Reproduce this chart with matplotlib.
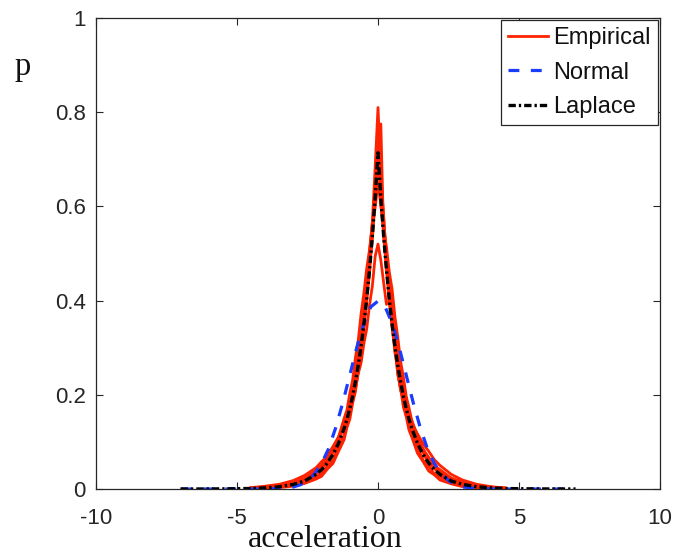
import numpy as np
import matplotlib
matplotlib.use("Agg")
import matplotlib.pyplot as plt

plt.rcParams['font.family'] = ['Liberation Sans', 'DejaVu Sans']

# grid used for the empirical curves and the Laplace fit
x_emp = [-4.5, -4, -3.5, -3, -2.6, -2.2, -2, -1.8, -1.6, -1.4, -1.2, -1.1, -1.0,
         -0.9, -0.8, -0.7, -0.6, -0.5, -0.4, -0.3, -0.2, -0.1, 0,
         0.1, 0.2, 0.3, 0.4, 0.5, 0.6, 0.7, 0.8, 0.9, 1.0, 1.1, 1.2, 1.4,
         1.6, 1.8, 2.0, 2.2, 2.6, 3.0, 3.5, 4.0, 4.5]

# empirical densities (one per run)
emp_1 = [0.001, 0.002, 0.003, 0.006, 0.012, 0.021, 0.027, 0.042, 0.054, 0.080, 0.105, 0.131, 0.148,
         0.182, 0.207, 0.253, 0.289, 0.352, 0.405, 0.492, 0.566, 0.684, 0.81,
         0.668, 0.580, 0.478, 0.418, 0.342, 0.299, 0.244, 0.215, 0.174, 0.154, 0.125, 0.110, 0.076,
         0.058, 0.038, 0.030, 0.019, 0.011, 0.005, 0.003, 0.001, 0.001]
emp_2 = [0.001, 0.002, 0.004, 0.008, 0.013, 0.026, 0.033, 0.047, 0.061, 0.088, 0.114, 0.139, 0.156,
         0.189, 0.219, 0.248, 0.298, 0.338, 0.406, 0.459, 0.551, 0.627, 0.70,
         0.775, 0.537, 0.472, 0.394, 0.349, 0.290, 0.257, 0.211, 0.188, 0.156, 0.139, 0.114, 0.088,
         0.061, 0.048, 0.032, 0.026, 0.013, 0.008, 0.003, 0.002, 0.001]
emp_3 = [0.002, 0.003, 0.005, 0.010, 0.019, 0.031, 0.044, 0.054, 0.076, 0.099, 0.136, 0.152, 0.178,
         0.213, 0.243, 0.288, 0.327, 0.383, 0.436, 0.504, 0.566, 0.627, 0.70,
         0.634, 0.574, 0.497, 0.443, 0.377, 0.332, 0.281, 0.248, 0.207, 0.182, 0.153, 0.136, 0.098,
         0.077, 0.054, 0.044, 0.030, 0.019, 0.010, 0.006, 0.003, 0.001]
emp_4 = [0.002, 0.004, 0.008, 0.015, 0.023, 0.041, 0.050, 0.066, 0.086, 0.110, 0.150, 0.168, 0.203,
         0.231, 0.279, 0.316, 0.372, 0.416, 0.468, 0.508, 0.559, 0.598, 0.65,
         0.603, 0.551, 0.514, 0.461, 0.424, 0.366, 0.323, 0.271, 0.238, 0.197, 0.172, 0.145, 0.114,
         0.084, 0.067, 0.049, 0.041, 0.023, 0.015, 0.007, 0.004, 0.002]
emp_5 = [0.003, 0.006, 0.010, 0.018, 0.029, 0.045, 0.058, 0.070, 0.090, 0.110, 0.137, 0.149, 0.172,
         0.193, 0.212, 0.245, 0.268, 0.309, 0.340, 0.391, 0.431, 0.494, 0.52,
         0.486, 0.438, 0.392, 0.400, 0.411, 0.330, 0.246, 0.211, 0.195, 0.167, 0.153, 0.138, 0.117,
         0.096, 0.080, 0.062, 0.050, 0.031, 0.019, 0.010, 0.005, 0.002]
emp_6 = [0.002, 0.003, 0.007, 0.013, 0.021, 0.038, 0.047, 0.064, 0.081, 0.110, 0.138, 0.163, 0.181,
         0.215, 0.238, 0.279, 0.311, 0.362, 0.405, 0.474, 0.529, 0.619, 0.74,
         0.607, 0.541, 0.464, 0.417, 0.355, 0.318, 0.271, 0.245, 0.208, 0.188, 0.158, 0.144, 0.105,
         0.085, 0.061, 0.050, 0.036, 0.023, 0.012, 0.007, 0.003, 0.002]
empirical = [emp_1, emp_2, emp_3, emp_4, emp_5, emp_6]

# Laplace fit
x_lap = [-7, -6, -5] + x_emp + [5, 6, 7]
p_lap = [0.0, 0.0001, 0.0006, 0.0011, 0.0024, 0.0048, 0.0098, 0.017, 0.031, 0.041, 0.055, 0.073,
         0.097, 0.129, 0.148, 0.171, 0.197, 0.228, 0.263, 0.303, 0.350, 0.403, 0.465, 0.537, 0.619,
         0.714,
         0.619, 0.537, 0.465, 0.403, 0.350, 0.303, 0.263, 0.228, 0.197, 0.171, 0.148, 0.129, 0.097,
         0.073, 0.055, 0.041, 0.031, 0.017, 0.0098, 0.0048, 0.0024, 0.0011, 0.0006, 0.0001, 0.0]

# Normal fit
x_norm = [-7, -6, -5, -4, -3.5, -3, -2.75, -2.5, -2.25, -2, -1.75, -1.5, -1.25, -1, -0.75,
          -0.5, -0.25, 0, 0.25, 0.5, 0.75, 1, 1.25, 1.5, 1.75, 2, 2.25, 2.5, 2.75, 3,
          3.5, 4, 5, 6, 7]
p_norm = [0.0, 0.0, 0.0, 0.0001, 0.0009, 0.0044, 0.009, 0.018, 0.032, 0.054, 0.086, 0.130,
          0.183, 0.242, 0.301, 0.352, 0.387, 0.399, 0.387, 0.352, 0.301, 0.242, 0.183, 0.130,
          0.086, 0.054, 0.032, 0.018, 0.009, 0.0044, 0.0009, 0.0001, 0.0, 0.0, 0.0]

W, H = 673, 553
fig = plt.figure(figsize=(W / 100, H / 100), dpi=100)
ax = fig.add_axes([96 / W, (H - 489) / H, (660 - 96) / W, (489 - 18) / H])

red = '#ff2200'
for i, ys in enumerate(empirical):
    ax.plot(x_emp, ys, color=red, lw=2.0, label='Empirical' if i == 0 else None, zorder=2)
ax.plot(x_norm, p_norm, color='#1a3cff', lw=2.3, dashes=(3.4, 3.6), label='Normal', zorder=3)
ax.plot(x_lap, p_lap, color='black', lw=2.4, dashes=(2.2, 0.9, 0.7, 0.9), label='Laplace', zorder=4)

ax.set_xlim(-10, 10)
ax.set_ylim(0, 1)
ax.set_xticks([-10, -5, 0, 5, 10])
ax.set_xticklabels(['-10', '-5', '0', '5', '10'])
ax.set_yticks([0, 0.2, 0.4, 0.6, 0.8, 1])
ax.set_yticklabels(['0', '0.2', '0.4', '0.6', '0.8', '1'])
ax.tick_params(direction='in', top=True, right=True, length=5, width=0.8,
               labelsize=16, colors='#262626')
ax.tick_params(axis='x', pad=13.5)
ax.tick_params(axis='y', pad=7.5)
for s in ax.spines.values():
    s.set_color('#262626')
    s.set_linewidth(0.9)

leg = ax.legend(loc='upper right', fontsize=17, fancybox=False, framealpha=1,
                edgecolor='#262626', borderaxespad=0.1, handlelength=1.7,
                handletextpad=0.2, labelspacing=0.52, borderpad=0.3)
leg.get_frame().set_linewidth(0.9)
for t in leg.get_texts():
    t.set_color('#111111')

fig.text(325.5 / W, 6 / H, 'acceleration', ha='center', va='baseline',
         family='Liberation Serif', size=23, color='#111111')
fig.text(15 / W, (H - 75) / H, 'p', ha='left', va='baseline',
         family='Liberation Serif', size=23.5, color='#111111')

fig.savefig('out.png', dpi=100)
